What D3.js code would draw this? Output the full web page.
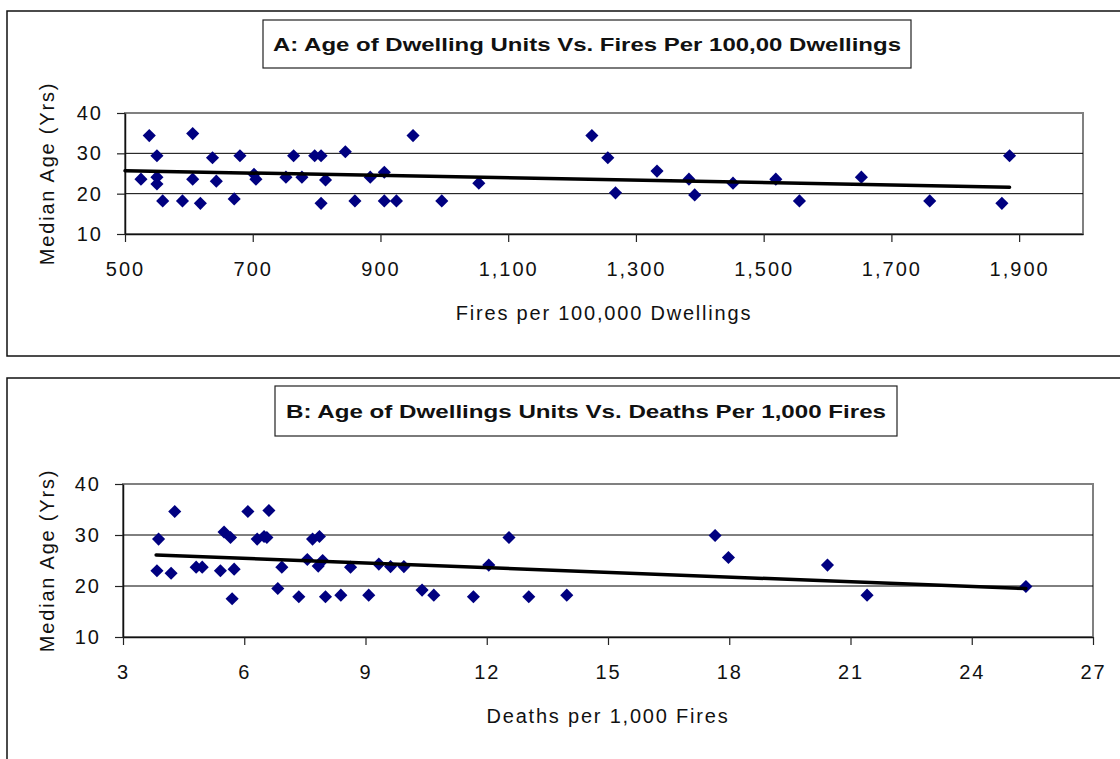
<!DOCTYPE html>
<html>
<head>
<meta charset="utf-8">
<script src="https://cdn.jsdelivr.net/npm/d3@7"></script>
<style>
  html, body { margin: 0; padding: 0; background: #fff; }
  svg { display: block; }
  text { font-family: Arial, "Liberation Sans", sans-serif; fill: #111; }
</style>
</head>
<body>
<svg id="chart" width="1120" height="759"></svg>
<script>
// Panel A: fires per 100,000 dwellings vs. median dwelling age
const fireRateA = [525, 538, 550, 550, 550, 559, 590, 606, 606, 618, 637, 643, 671, 680, 702, 705,
  752, 764, 777, 797, 807, 807, 814, 845, 860, 884, 906, 906, 925, 951, 996, 1054,
  1231, 1256, 1268, 1333, 1383, 1392, 1452, 1519, 1556, 1653, 1760, 1873, 1885];
const medianAgeA = [23.6, 34.4, 29.4, 24.1, 22.4, 18.2, 18.2, 34.9, 23.6, 17.6, 28.9, 23.1, 18.7, 29.4, 24.8, 23.6,
  24.1, 29.4, 24.1, 29.4, 29.4, 17.6, 23.4, 30.4, 18.2, 24.1, 25.3, 18.2, 18.2, 34.4, 18.2, 22.6,
  34.4, 28.9, 20.2, 25.6, 23.6, 19.7, 22.6, 23.6, 18.2, 24.1, 18.2, 17.6, 29.4];
const trendXA = [500, 1885];
const trendYA = [25.7, 21.6];
const xTicksA = [500, 700, 900, 1100, 1300, 1500, 1700, 1900];

// Panel B: deaths per 1,000 fires vs. median dwelling age
const deathRateB = [3.84, 3.88, 4.19, 4.28, 4.81, 4.96, 5.41, 5.50, 5.66, 5.70, 5.75, 6.09, 6.32, 6.49, 6.56, 6.61,
  6.83, 6.93, 7.35, 7.56, 7.69, 7.86, 7.83, 7.94, 8.01, 8.39, 8.63, 9.08, 9.33, 9.62, 9.95, 10.40,
  10.69, 11.67, 12.05, 12.55, 13.04, 13.98, 17.65, 17.98, 20.43, 21.41, 25.34];
const medianAgeB = [23.0, 29.2, 22.5, 34.6, 23.7, 23.7, 23.0, 30.6, 29.5, 17.5, 23.3, 34.6, 29.2, 29.7, 29.5, 34.8,
  19.5, 23.7, 17.9, 25.2, 29.2, 29.7, 23.9, 25.0, 17.9, 18.2, 23.7, 18.2, 24.3, 23.8, 23.8, 19.2,
  18.2, 17.9, 24.1, 29.5, 17.9, 18.2, 29.9, 25.6, 24.1, 18.2, 19.9];
const trendXB = [3.82, 25.34];
const trendYB = [26.1, 19.5];
const xTicksB = [3, 6, 9, 12, 15, 18, 21, 24, 27];

const yTicks = [10, 20, 30, 40];

const panels = [
  {
    title: "A: Age of Dwelling Units Vs. Fires Per 100,00 Dwellings",
    xTitle: "Fires per 100,000 Dwellings",
    xs: fireRateA, ys: medianAgeA, tx: trendXA, ty: trendYA,
    xDomain: [500, 2000], xTicks: xTicksA, fmt: d3.format(","),
    frame: { x: 7, y: 11, w: 1130, h: 345 },
    tbox: { x: 263, y: 20, w: 648, h: 48, textW: 628 },
    plot: { left: 125, right: 1083, top: 113, bottom: 234 }
  },
  {
    title: "B: Age of Dwellings Units Vs. Deaths Per 1,000 Fires",
    xTitle: "Deaths per 1,000 Fires",
    xs: deathRateB, ys: medianAgeB, tx: trendXB, ty: trendYB,
    xDomain: [3, 27], xTicks: xTicksB, fmt: d3.format("d"),
    frame: { x: 7, y: 378, w: 1130, h: 420 },
    tbox: { x: 275, y: 386, w: 622, h: 50, textW: 600 },
    plot: { left: 123, right: 1093, top: 484, bottom: 637 }
  }
];

const svg = d3.select("#chart");

panels.forEach(p => {
  const g = svg.append("g");

  // outer chart frame
  g.append("rect")
    .attr("x", p.frame.x).attr("y", p.frame.y)
    .attr("width", p.frame.w).attr("height", p.frame.h)
    .attr("fill", "#fff").attr("stroke", "#111").attr("stroke-width", 1.5);

  // title box
  g.append("rect")
    .attr("x", p.tbox.x).attr("y", p.tbox.y)
    .attr("width", p.tbox.w).attr("height", p.tbox.h)
    .attr("fill", "#fff").attr("stroke", "#222").attr("stroke-width", 1.2);
  g.append("text")
    .attr("x", p.tbox.x + p.tbox.w / 2)
    .attr("y", p.tbox.y + p.tbox.h / 2 + 7)
    .attr("text-anchor", "middle")
    .attr("font-weight", "bold")
    .attr("font-size", 19)
    .attr("textLength", p.tbox.textW)
    .attr("lengthAdjust", "spacingAndGlyphs")
    .text(p.title);

  const x = d3.scaleLinear().domain(p.xDomain).range([p.plot.left, p.plot.right]);
  const y = d3.scaleLinear().domain([10, 40]).range([p.plot.bottom, p.plot.top]);

  // plot area border
  g.append("rect")
    .attr("x", p.plot.left).attr("y", p.plot.top)
    .attr("width", p.plot.right - p.plot.left)
    .attr("height", p.plot.bottom - p.plot.top)
    .attr("fill", "none").attr("stroke", "#808080").attr("stroke-width", 2);

  // horizontal gridlines
  g.append("g").selectAll("line")
    .data(yTicks.filter(v => v > 10 && v < 40))
    .join("line")
    .attr("x1", p.plot.left).attr("x2", p.plot.right)
    .attr("y1", d => y(d)).attr("y2", d => y(d))
    .attr("stroke", "#000").attr("stroke-width", 1);

  // axes
  const yAxis = g.append("g")
    .attr("transform", `translate(${p.plot.left},0)`)
    .call(d3.axisLeft(y).tickValues(yTicks).tickSize(8).tickSizeOuter(0).tickPadding(14));
  const xAxis = g.append("g")
    .attr("transform", `translate(0,${p.plot.bottom})`)
    .call(d3.axisBottom(x).tickValues(p.xTicks).tickFormat(p.fmt).tickSize(8).tickSizeOuter(0).tickPadding(20));
  [yAxis, xAxis].forEach(a => {
    a.select(".domain").attr("stroke", "#111").attr("stroke-width", 1.5);
    a.selectAll(".tick line").attr("stroke", "#222").attr("stroke-width", 1.2);
    a.selectAll(".tick text")
      .attr("fill", "#111")
      .style("font-family", "Arial, 'Liberation Sans', sans-serif")
      .style("font-size", "20px")
      .style("letter-spacing", "2px");
  });

  // axis titles
  g.append("text")
    .attr("x", (p.plot.left + p.plot.right) / 2)
    .attr("y", p.plot.bottom + 86)
    .attr("text-anchor", "middle")
    .attr("font-size", 20)
    .style("letter-spacing", "1.8px")
    .text(p.xTitle);
  g.append("text")
    .attr("transform", `translate(54,${(p.plot.top + p.plot.bottom) / 2}) rotate(-90)`)
    .attr("text-anchor", "middle")
    .attr("font-size", 20)
    .style("letter-spacing", "1.8px")
    .text("Median Age (Yrs)");

  // data markers (diamonds)
  const pts = p.xs.map((v, i) => ({ x: v, y: p.ys[i] }));
  g.append("g").selectAll("path")
    .data(pts)
    .join("path")
    .attr("d", d3.symbol().type(d3.symbolSquare).size(86))
    .attr("transform", d => `translate(${x(d.x)},${y(d.y)}) rotate(45)`)
    .attr("fill", "#000080");

  // linear trendline
  const trend = p.tx.map((v, i) => [v, p.ty[i]]);
  g.append("path")
    .datum(trend)
    .attr("d", d3.line().x(d => x(d[0])).y(d => y(d[1])))
    .attr("fill", "none")
    .attr("stroke", "#000")
    .attr("stroke-width", 3.5)
    .attr("stroke-linecap", "round");
});
</script>
</body>
</html>
